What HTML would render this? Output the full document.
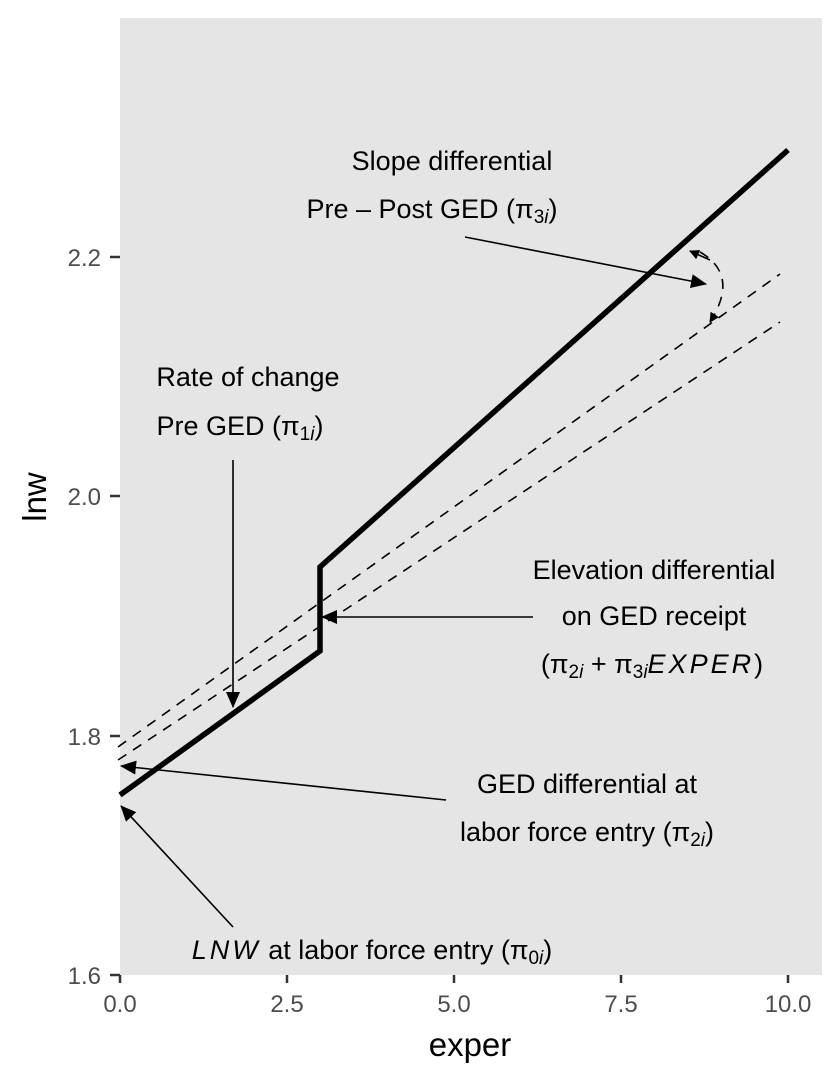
<!DOCTYPE html>
<html><head><style>body{margin:0;background:#fff}svg{display:block}text{font-family:"Liberation Sans",sans-serif}</style></head>
<body>
<svg width="840" height="1080" viewBox="0 0 840 1080" xmlns="http://www.w3.org/2000/svg">
<defs>
<marker id="ah" markerWidth="10" markerHeight="10" refX="9" refY="5" orient="auto" markerUnits="userSpaceOnUse"><path d="M0,0 L10,5 L0,10 z" fill="#000"/></marker>
<marker id="ab" markerWidth="16" markerHeight="14" refX="15" refY="7" orient="auto" markerUnits="userSpaceOnUse"><path d="M0,0 L16,7 L0,14 z" fill="#000"/></marker>
</defs>
<rect x="120" y="18" width="702" height="957" fill="#e5e5e5"/>
<line x1="118" y1="747" x2="780" y2="274" stroke="#000" stroke-width="1.6" stroke-dasharray="10,8"/>
<line x1="118" y1="760" x2="780" y2="322" stroke="#000" stroke-width="1.6" stroke-dasharray="10,8"/>
<polyline points="120,795 320,651 320,567 788,150" fill="none" stroke="#000" stroke-width="5.5"/>
<line x1="465" y1="237" x2="706" y2="284" stroke="#000" stroke-width="1.6" marker-end="url(#ab)"/>
<line x1="233" y1="460" x2="233" y2="707" stroke="#000" stroke-width="1.6" marker-end="url(#ab)"/>
<line x1="533" y1="617" x2="322" y2="617" stroke="#000" stroke-width="1.6" marker-end="url(#ab)"/>
<line x1="446" y1="800" x2="121" y2="766" stroke="#000" stroke-width="1.6" marker-end="url(#ab)"/>
<line x1="233" y1="927" x2="121" y2="806" stroke="#000" stroke-width="1.6" marker-end="url(#ab)"/>
<path d="M700,252 Q740,275 710,322" fill="none" stroke="#000" stroke-width="1.6" stroke-dasharray="10,8" marker-end="url(#ah)"/>
<path d="M710,260 L690,251" stroke="#000" stroke-width="1.6" marker-end="url(#ah)"/>
<g font-size="27" fill="#000" text-anchor="middle">
<text x="452" y="170">Slope differential</text>
<text x="432" y="218">Pre – Post GED (π<tspan font-size="19" dy="5">3<tspan font-style="italic">i</tspan></tspan><tspan dy="-5">)</tspan></text>
<text x="248" y="386">Rate of change</text>
<text x="240" y="435">Pre GED (π<tspan font-size="19" dy="5">1<tspan font-style="italic">i</tspan></tspan><tspan dy="-5">)</tspan></text>
<text x="654" y="579">Elevation differential</text>
<text x="654" y="625">on GED receipt</text>
<text x="652" y="673">(π<tspan font-size="19" dy="5">2<tspan font-style="italic">i</tspan></tspan><tspan dy="-5"> + π</tspan><tspan font-size="19" dy="5">3<tspan font-style="italic">i</tspan></tspan><tspan dy="-5" font-style="italic" letter-spacing="3">EXPER</tspan>)</text>
<text x="587" y="793">GED differential at</text>
<text x="587" y="841">labor force entry (π<tspan font-size="19" dy="5">2<tspan font-style="italic">i</tspan></tspan><tspan dy="-5">)</tspan></text>
<text x="372" y="959"><tspan font-style="italic" letter-spacing="3">LNW</tspan> at labor force entry (π<tspan font-size="19" dy="5">0<tspan font-style="italic">i</tspan></tspan><tspan dy="-5">)</tspan></text>
</g>
<g stroke="#333" stroke-width="2.5">
<line x1="110" y1="257" x2="120" y2="257"/><line x1="110" y1="496" x2="120" y2="496"/>
<line x1="110" y1="736" x2="120" y2="736"/><line x1="110" y1="975" x2="120" y2="975"/>
<line x1="120" y1="975" x2="120" y2="983"/><line x1="287" y1="975" x2="287" y2="983"/>
<line x1="454" y1="975" x2="454" y2="983"/><line x1="621" y1="975" x2="621" y2="983"/>
<line x1="788" y1="975" x2="788" y2="983"/>
</g>
<g font-size="24" fill="#4d4d4d" text-anchor="end">
<text x="101" y="266">2.2</text><text x="101" y="505">2.0</text><text x="101" y="745">1.8</text><text x="101" y="984">1.6</text>
</g>
<g font-size="24" fill="#4d4d4d" text-anchor="middle">
<text x="120" y="1012">0.0</text><text x="287" y="1012">2.5</text><text x="454" y="1012">5.0</text><text x="621" y="1012">7.5</text><text x="788" y="1012">10.0</text>
</g>
<text x="470" y="1056" font-size="33" text-anchor="middle">exper</text>
<text transform="translate(46,497) rotate(-90)" font-size="33" text-anchor="middle">lnw</text>
</svg>
</body></html>
